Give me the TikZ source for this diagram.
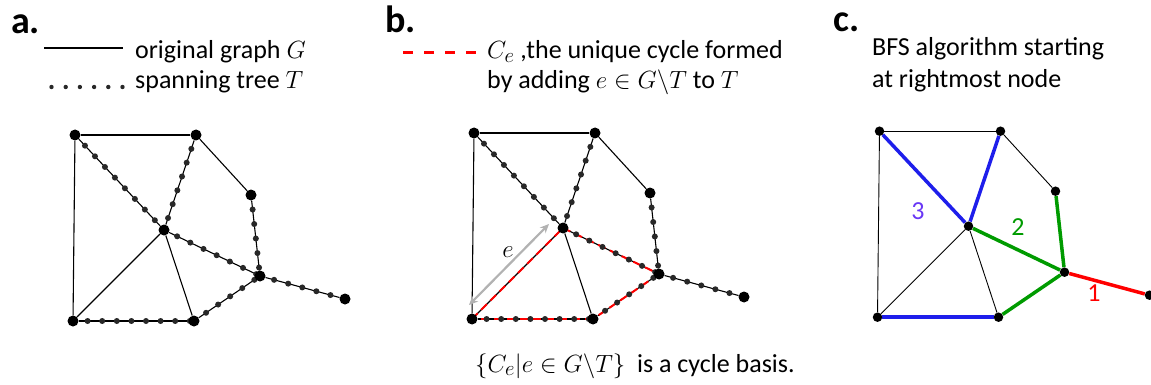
\documentclass[tikz,border=0pt]{standalone}
\usepackage{fontspec}
\setmainfont{Carlito}
\DeclareMathSizes{26}{29}{21}{16}
\usetikzlibrary{arrows.meta,backgrounds}
\definecolor{bfsred}{RGB}{255,0,0}
\definecolor{bfsgreen}{RGB}{0,155,0}
\definecolor{bfsblue}{RGB}{30,30,235}
\definecolor{bfsviolet}{RGB}{105,55,245}
\definecolor{treegray}{RGB}{40,40,40}

\begin{document}
\begin{tikzpicture}[
  x=1pt, y=-1pt,
  >={Stealth[length=9pt,width=8pt]},
  vert/.style={circle, fill=black, inner sep=0pt, minimum size=11pt},
  smallvert/.style={vert, minimum size=9.5pt},
  gedge/.style={line width=1.1pt},
  tedge/.style={draw=treegray, line width=6pt, line cap=round, dash pattern=on 0pt off 14.6pt},
  cedge/.style={draw=bfsred, line width=2pt, dash pattern=on 8pt off 5pt},
  bfs/.style={line width=3.5pt},
  txt/.style={anchor=base west, inner sep=0pt, font=\fontsize{26}{30}\selectfont},
  num/.style={inner sep=0pt, font=\fontsize{26}{30}\selectfont},
  lbl/.style={anchor=base west, inner sep=0pt, font=\fontsize{38}{40}\selectfont\bfseries},
]
\useasboundingbox (0,0) rectangle (1151,385);
% the same graph in all three panels
\foreach \p/\dx/\dy/\st in {a/0/0/vert, b/399/-2/vert, c/804.5/-3.8/smallvert}
  \foreach \v/\x/\y in {TL/75/135, TR/196/135, R/251/195, C/164/230, H/260/276, F/345/299, BL/73/321, BM/194/321}
    \node[style=\st] (\p\v) at (\x+\dx,\y+\dy) {};

\begin{scope}[on background layer]
\foreach \p in {a,b}
  \foreach \u/\v in {TL/TR, TR/R, TL/BL, BL/C, C/BM, TL/C, TR/C, C/H, R/H, H/F, BL/BM, BM/H}
    \draw[gedge] (\p\u) -- (\p\v);
% cycle C_e for e = BL--C
\foreach \u/\v in {BL/C, C/H, H/BM, BM/BL} \draw[cedge] (b\u.center) -- (b\v.center);
% spanning tree T
\foreach \p in {a,b}
  \foreach \u/\v in {TL/C, TR/C, C/H, R/H, H/F, BL/BM, BM/H}
    \draw[tedge] (\p\u.center) -- (\p\v.center);
% BFS levels
\foreach \u/\v in {TL/TR, TR/R, TL/BL, BL/C, C/BM} \draw[line width=0.9pt] (c\u) -- (c\v);
\draw[bfs, bfsred] (cH) -- (cF);
\foreach \u in {C, R, BM} \draw[bfs, bfsgreen] (cH) -- (c\u);
\foreach \u/\v in {C/TL, C/TR, BL/BM} \draw[bfs, bfsblue] (c\u) -- (c\v);
\end{scope}

\coordinate (eTail) at (469,305);
\coordinate (eTip) at (549,224);
\draw[<->, draw=black!30, line width=2.2pt] (eTail) -- (eTip);
\node[num] (eLab) at (508,252) {$e$};

\node[num, text=bfsred] (lev1) at (1094,293) {1};
\node[num, text=bfsgreen] (lev2) at (1018,227) {2};
\node[num, text=bfsviolet] (lev3) at (918,211) {3};

% panel titles and legends
\node[lbl] (labA) at (11,34) {a.};
\node[lbl] (labB) at (385,33) {b.};
\node[lbl] (labC) at (833,32) {c.};

\draw[gedge] (44,48) -- (123,48);
\foreach \i in {0,...,5} \fill[treegray] (51.5+14.2*\i,87) circle (2.2pt);
\node[txt] (legG) at (135,59) {original graph $G$};
\node[txt] (legT) at (135,89) {spanning tree $T$};

\draw[cedge, line width=3pt, dash pattern=on 10pt off 11pt] (403,53) -- (477,53);
\node[txt] (legC) at (487,59) {$C_e$ ,the unique cycle formed};
\node[txt] (legC2) at (487,89) {by adding $e\in G\backslash T$ to $T$};

\node[txt] (bfsA) at (872,56) {BFS algorithm starting};
\node[txt] (bfsB) at (872,88) {at rightmost node};

\node[txt] (basis) at (475,372) {$\{C_e|e\in G\backslash T\}$\ \ is a cycle basis.};
\end{tikzpicture}
\end{document}
